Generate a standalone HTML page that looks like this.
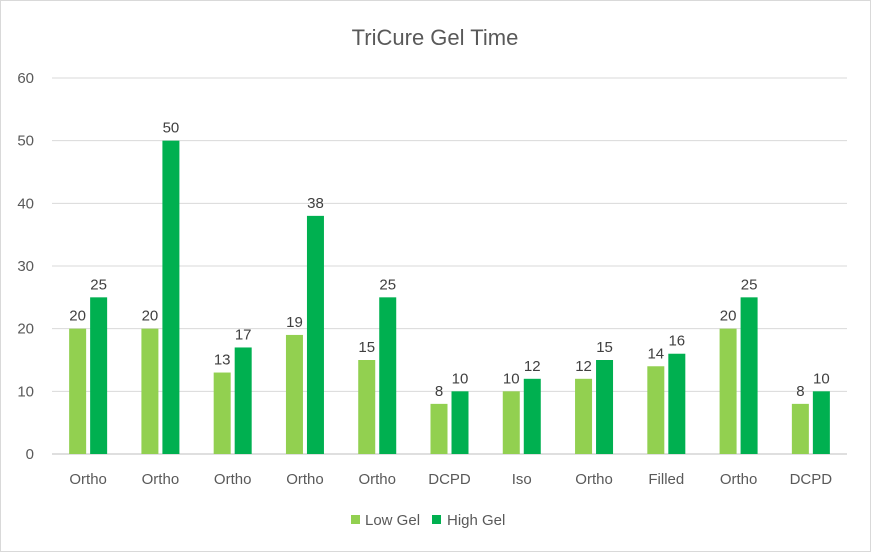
<!DOCTYPE html>
<html><head><meta charset="utf-8"><style>
body{margin:0;background:#fff;}
svg{display:block;font-family:"Liberation Sans",sans-serif;}
</style></head><body>
<svg id="chart" width="871" height="552">
<rect x="0.5" y="0.5" width="870" height="551" fill="#fff" stroke="#d9d9d9"/>
<text x="435" y="45" text-anchor="middle" font-size="22" fill="#595959">TriCure Gel Time</text>
<g id="grid"></g>
<g id="yaxis"></g>
<g id="bars"></g>
<g id="xaxis"></g>
<g>
<g>
<rect x="351" y="515" width="9" height="9" fill="#92D050"/>
<text x="365" y="525" font-size="15" fill="#595959">Low Gel</text></g>
<g>
<rect x="432" y="515" width="9" height="9" fill="#00B050"/>
<text x="447" y="525" font-size="15" fill="#595959">High Gel</text></g>
</g>
</svg>
<script>
const categories=["Ortho","Ortho","Ortho","Ortho","Ortho","DCPD","Iso","Ortho","Filled","Ortho","DCPD"];
const lowGel=[20,20,13,19,15,8,10,12,14,20,8];
const highGel=[25,50,17,38,25,10,12,15,16,25,10];
const yTicks=[0,10,20,30,40,50,60];
const NS="http://www.w3.org/2000/svg";
const X0=52,X1=847,Y0=454,Y1=78,YMAX=60;
const band=(X1-X0)/categories.length;
const y=v=>Y0-(v/YMAX)*(Y0-Y1);
const xc=i=>X0+band*(i+0.5);
function mk(t,a,p){const e=document.createElementNS(NS,t);for(const k in a)e.setAttribute(k,a[k]);p.appendChild(e);return e;}
const grid=document.getElementById('grid'),ya=document.getElementById('yaxis'),bars=document.getElementById('bars'),xa=document.getElementById('xaxis');
yTicks.forEach(t=>{
 const l=mk('line',{x1:X0,x2:X1,y1:y(t),y2:y(t),stroke:t===0?'#bfbfbf':'#d9d9d9','stroke-width':1},grid);
 
 
 const tx=mk('text',{x:34,y:y(t)+5,'text-anchor':'end','font-size':15,fill:'#595959'},ya);
 tx.textContent=t;
 
 
});
const BW=17,GAP=4;
categories.forEach((c,i)=>{
 const cx=xc(i);
 [[lowGel[i],'#92D050',cx-GAP/2-BW,'low'],[highGel[i],'#00B050',cx+GAP/2,'high']].forEach(([v,col,x,s])=>{
  const r=mk('rect',{x:x,y:y(v),width:BW,height:Y0-y(v),fill:col},bars);
  
  
  const t=mk('text',{x:x+BW/2,y:y(v)-8,'text-anchor':'middle','font-size':15,fill:'#404040'},bars);
  t.textContent=v;
  
  
 });
 const lt=mk('text',{x:cx,y:484,'text-anchor':'middle','font-size':15,fill:'#595959'},xa);
 lt.textContent=c;
 
 
});
</script>
</body></html>
